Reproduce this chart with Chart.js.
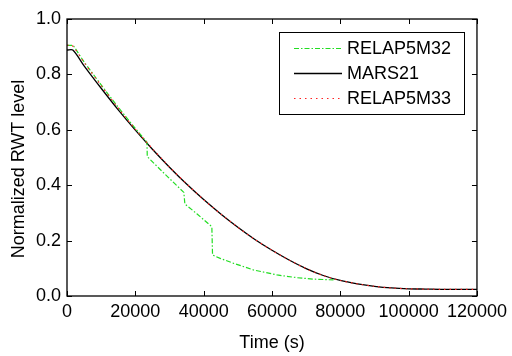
<!DOCTYPE html>
<html>
<head>
<meta charset="utf-8">
<script src="https://cdn.jsdelivr.net/npm/chart.js@4.4.0/dist/chart.umd.min.js"></script>
<style>
  html, body { margin: 0; padding: 0; background: #fff; }
  #wrap { width: 512px; height: 356px; }
</style>
</head>
<body>
<div id="wrap"><canvas id="rwtChart" width="512" height="356"></canvas></div>
<script>
// RELAP5M32 (green dash-dot)
const m32Time  = [0, 1800, 5000, 10000, 15000, 20000, 23400, 23500, 28000, 34200, 34500, 38000, 42400, 42600, 45000, 48800, 54600, 61500, 67400, 72000, 78000];
const m32Level = [0.905, 0.905, 0.845, 0.762, 0.681, 0.605, 0.555, 0.503, 0.448, 0.374, 0.332, 0.297, 0.250, 0.148, 0.135, 0.118, 0.094, 0.076, 0.066, 0.061, 0.058];

// MARS21 (black solid)
const marsTime  = [0, 1700, 5000, 10000, 15000, 20000, 25000, 30000, 35000, 40000, 45000, 50000, 55000, 60000, 65000, 70000, 75000, 80000, 85000, 90000, 95000, 100000, 105000, 110000, 120000];
const marsLevel = [0.888, 0.888, 0.831, 0.750, 0.672, 0.599, 0.530, 0.465, 0.404, 0.348, 0.296, 0.248, 0.204, 0.165, 0.130, 0.099, 0.074, 0.056, 0.044, 0.035, 0.029, 0.026, 0.025, 0.024, 0.024];

// RELAP5M33 (red dotted)
const m33Time  = [0, 1500, 5000, 10000, 15000, 20000, 25000, 30000, 35000, 40000, 45000, 50000, 55000, 60000, 65000, 70000, 75000, 80000, 85000, 90000, 95000, 100000, 105000, 110000, 120000];
const m33Level = [0.905, 0.905, 0.843, 0.760, 0.678, 0.602, 0.532, 0.466, 0.405, 0.348, 0.296, 0.248, 0.204, 0.165, 0.130, 0.099, 0.074, 0.056, 0.044, 0.035, 0.029, 0.026, 0.025, 0.024, 0.024];

const xTicks = [0, 20000, 40000, 60000, 80000, 100000, 120000];
const yTicks = [0.0, 0.2, 0.4, 0.6, 0.8, 1.0];
const yTitle = 'Normalized RWT level';

const FONT = "'Liberation Sans', Arial, sans-serif";

function pts(xs, ys) {
    return xs.map((x, i) => ({ x: x, y: ys[i] }));
}

// frame + inward ticks on all four sides, plus the y title (sits a bit low in the original)
const framePlugin = {
    id: 'frame',
    afterDatasetsDraw(chart) {
        const { ctx, chartArea: a, scales } = chart;
        ctx.save();
        ctx.strokeStyle = '#000';
        ctx.lineWidth = 1.3;
        ctx.strokeRect(a.left, a.top, a.right - a.left, a.bottom - a.top);
        ctx.lineWidth = 1;
        ctx.beginPath();
        xTicks.forEach(v => {
            const px = Math.round(scales.x.getPixelForValue(v)) + 0.5;
            ctx.moveTo(px, a.bottom); ctx.lineTo(px, a.bottom - 5);
            ctx.moveTo(px, a.top); ctx.lineTo(px, a.top + 5);
        });
        yTicks.forEach(v => {
            const py = Math.round(scales.y.getPixelForValue(v)) + 0.5;
            ctx.moveTo(a.left, py); ctx.lineTo(a.left + 5, py);
            ctx.moveTo(a.right, py); ctx.lineTo(a.right - 5, py);
        });
        ctx.stroke();

        ctx.translate(19, 169);
        ctx.rotate(-Math.PI / 2);
        ctx.font = '18px ' + FONT;
        ctx.fillStyle = '#000';
        ctx.textAlign = 'center';
        ctx.textBaseline = 'middle';
        ctx.fillText(yTitle, 0, 0);
        ctx.restore();
    }
};

// boxed legend in the upper right
const legendBoxPlugin = {
    id: 'legendBox',
    afterDraw(chart) {
        const { ctx } = chart;
        const box = { x: 279.5, y: 32.5, w: 185, h: 82 };
        ctx.save();
        ctx.fillStyle = '#fff';
        ctx.fillRect(box.x, box.y, box.w, box.h);
        ctx.strokeStyle = '#000';
        ctx.lineWidth = 1;
        ctx.strokeRect(box.x, box.y, box.w, box.h);
        ctx.font = '18px ' + FONT;
        ctx.textBaseline = 'middle';
        chart.data.datasets.forEach((ds, i) => {
            const y = 48.5 + i * 25;
            ctx.strokeStyle = ds.borderColor;
            ctx.lineWidth = ds.borderWidth;
            ctx.setLineDash(ds.borderDash || []);
            ctx.beginPath();
            ctx.moveTo(294, y); ctx.lineTo(342, y);
            ctx.stroke();
            ctx.setLineDash([]);
            ctx.fillStyle = '#000';
            ctx.fillText(ds.label, 347, y + 1);
        });
        ctx.restore();
    }
};

new Chart(document.getElementById('rwtChart').getContext('2d'), {
    type: 'line',
    data: {
        datasets: [
            {
                label: 'RELAP5M32',
                data: pts(m32Time, m32Level),
                borderColor: '#22dd22',
                borderWidth: 1.2,
                borderDash: [5, 2, 1.5, 2],
                pointRadius: 0,
                tension: 0,
                order: 2
            },
            {
                label: 'MARS21',
                data: pts(marsTime, marsLevel),
                borderColor: '#000000',
                borderWidth: 1.3,
                pointRadius: 0,
                tension: 0.3,
                order: 3
            },
            {
                label: 'RELAP5M33',
                data: pts(m33Time, m33Level),
                borderColor: '#ff2222',
                borderWidth: 1.2,
                borderDash: [1.5, 4],
                pointRadius: 0,
                tension: 0.3,
                order: 1
            }
        ]
    },
    options: {
        responsive: false,
        animation: false,
        layout: { padding: { top: 19, right: 35, left: 0, bottom: 0 } },
        plugins: {
            legend: { display: false },
            tooltip: { enabled: false }
        },
        scales: {
            x: {
                type: 'linear',
                min: 0,
                max: 120000,
                afterBuildTicks: (s) => { s.ticks = xTicks.map(v => ({ value: v })); },
                afterFit: (s) => { s.height = 60; },
                grid: { display: false, drawTicks: false },
                border: { display: false },
                ticks: {
                    color: '#000',
                    padding: 5,
                    maxRotation: 0,
                    autoSkip: false,
                    font: { family: FONT, size: 18 },
                    callback: (v) => String(v)
                },
                title: {
                    display: true,
                    text: 'Time (s)',
                    color: '#000',
                    padding: { top: 0, bottom: 2 },
                    font: { family: FONT, size: 18 }
                }
            },
            y: {
                min: 0,
                max: 1,
                afterBuildTicks: (s) => { s.ticks = yTicks.map(v => ({ value: v })); },
                afterFit: (s) => { s.width = 67; },
                grid: { display: false, drawTicks: false },
                border: { display: false },
                ticks: {
                    color: '#000',
                    padding: 6,
                    font: { family: FONT, size: 18 },
                    callback: (v) => v.toFixed(1)
                },
                title: { display: false }
            }
        }
    },
    plugins: [framePlugin, legendBoxPlugin]
});
</script>
</body>
</html>
